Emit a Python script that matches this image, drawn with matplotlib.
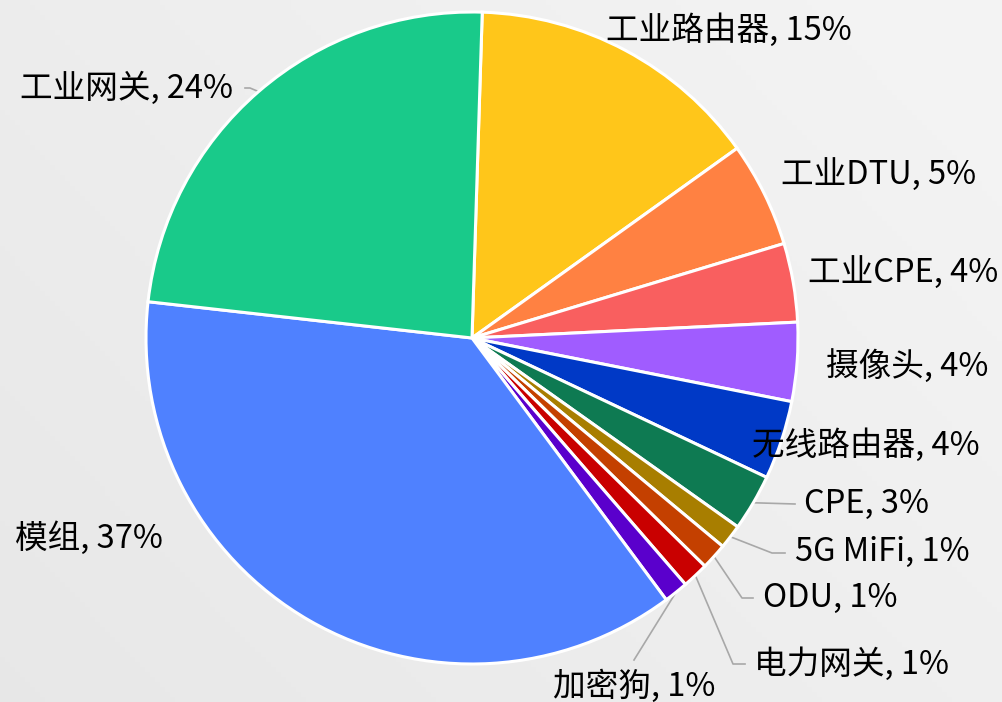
import numpy as np
import matplotlib
matplotlib.use("Agg")
import matplotlib.pyplot as plt

plt.rcParams['font.family'] = ['Noto Sans CJK SC', 'DejaVu Sans']

# data, clockwise from the top
names = ["工业路由器", "工业DTU", "工业CPE", "摄像头", "无线路由器", "CPE",
         "5G MiFi", "ODU", "电力网关", "加密狗", "模组", "工业网关"]
shares = [14.6, 5.2, 3.9, 3.9, 3.9, 2.8, 1.2, 1.3, 1.3, 1.2, 36.9, 23.7]
colors = ["#FFC61A", "#FF8142", "#F95F5F", "#A05CFF", "#0039C6", "#0E7A52",
          "#A87E00", "#C44000", "#C90000", "#5A00CC", "#4F81FF", "#19CA8A"]

W, H = 1002, 702
CX, CY, R = 472, 338, 326


def px(x, y):
    # pixel position -> data position (pie radius = 1)
    return (x - CX) / R, (CY - y) / R


# label layout in pixels: (x, y centre, ha, leader path)
layout = {
    "工业路由器": (606, 30, "left", None),
    "工业DTU": (781, 175, "left", None),
    "工业CPE": (998, 273, "right", None),
    "摄像头": (826, 366, "left", None),
    "无线路由器": (752, 445, "left", None),
    "CPE": (804, 504, "left", [(795, 504)]),
    "5G MiFi": (795, 552, "left", [(772, 553), (785, 553)]),
    "ODU": (763, 598, "left", [(742, 598), (753, 598)]),
    "电力网关": (754, 664, "left", [(733, 664), (745, 664)]),
    "加密狗": (553, 686, "left", [(634, 660)]),
    "模组": (163, 538, "right", None),
    "工业网关": (233, 88, "right", [(250, 88), (245, 88)]),
}

fig = plt.figure(figsize=(W / 100, H / 100), dpi=100)
ax = fig.add_axes([0, 0, 1, 1])
x0, y1 = px(0, 0)
x1, y0 = px(W, H)

# soft grey background
gx, gy = np.meshgrid(np.linspace(0, 1, 200), np.linspace(0, 1, 140))
bg = 0.905 + 0.05 * (0.6 * gx + 0.4 * (1 - gy))
ax.imshow(bg, cmap="gray", vmin=0, vmax=1, extent=[x0, x1, y0, y1],
          origin="upper", zorder=0, aspect="auto")

total = sum(shares)
wedges, _ = ax.pie(shares, colors=colors, startangle=88.2, counterclock=False,
                   radius=1, center=(0, 0),
                   wedgeprops=dict(edgecolor="white", linewidth=2.2))
for w in wedges:
    w.set_zorder(2)

for w, name, v in zip(wedges, names, shares):
    tx, ty, ha, path = layout[name]
    label = f"{name}, {round(v / total * 100)}%"
    if path:
        mid = np.deg2rad((w.theta1 + w.theta2) / 2)
        pts = [(np.cos(mid), np.sin(mid))] + [px(*p) for p in path]
        xs, ys = zip(*pts)
        ax.plot(xs, ys, color="#A8A8A8", lw=1.2, zorder=1)
    ax.text(*px(tx, ty), label, ha=ha, va="center", fontsize=23.5,
            color="black", zorder=3)

ax.set_xlim(x0, x1)
ax.set_ylim(y0, y1)
ax.set_aspect("equal")
ax.axis("off")

fig.savefig("out.png", dpi=100)
